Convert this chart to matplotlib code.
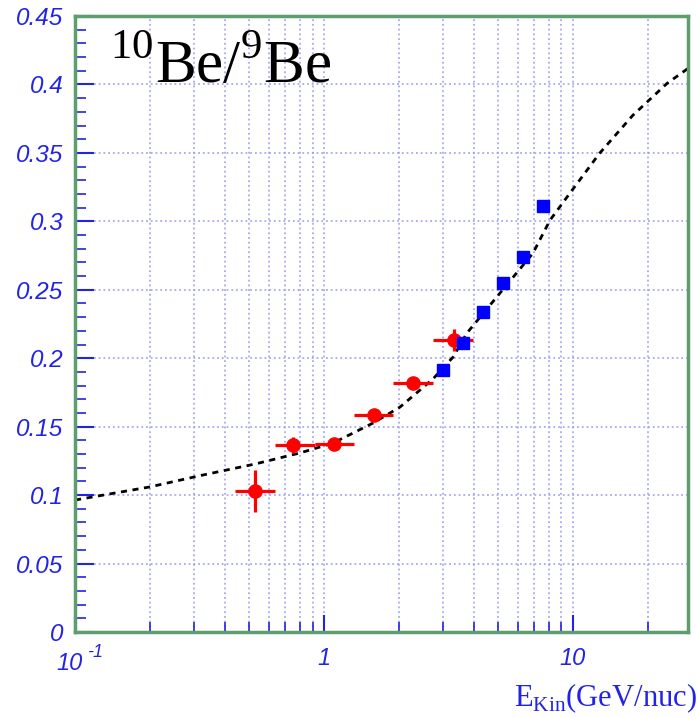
import numpy as np
import matplotlib
matplotlib.use("Agg")
import matplotlib.pyplot as plt
from matplotlib.ticker import FixedLocator, NullFormatter

plt.rcParams['mathtext.fontset'] = 'custom'
plt.rcParams['mathtext.rm'] = 'Liberation Serif'

# ---- data ----
red_x = [0.528, 0.751, 1.097, 1.588, 2.276, 3.33]
red_y = [0.103, 0.1366, 0.1373, 0.1585, 0.1819, 0.2133]
red_xlo = [0.439, 0.636, 0.920, 1.32, 1.89, 2.74]
red_xhi = [0.636, 0.920, 1.32, 1.89, 2.74, 3.97]
red_yerr = [0.015, 0.006, 0.003, 0.003, 0.003, 0.008]

blue_x = [3.0, 3.62, 4.35, 5.24, 6.30, 7.58]
blue_y = [0.1914, 0.2111, 0.2338, 0.2550, 0.2740, 0.3112]
blue_xlo = [2.87, 3.46, 4.16, 5.01, 6.02, 7.25]
blue_xhi = [3.14, 3.79, 4.55, 5.48, 6.59, 7.93]
blue_yerr = [0.003, 0.003, 0.003, 0.003, 0.003, 0.003]

curve_x = [0.1, 0.2, 0.327, 0.528, 0.801, 1.087, 1.573, 2.02, 2.74, 3.30,
           3.75, 5.09, 6.91, 8.09, 9.46, 12.8, 17.4, 23.9, 29.0]
curve_y = [0.0964, 0.106, 0.1147, 0.1227, 0.1308, 0.138, 0.1526, 0.1643, 0.1848,
           0.2008, 0.2183, 0.2475, 0.2767, 0.3008, 0.3176, 0.3497, 0.3774, 0.4008, 0.4117]

y_ticks = [0, 0.05, 0.1, 0.15, 0.2, 0.25, 0.3, 0.35, 0.4, 0.45]
y_labels = ['0', '0.05', '0.1', '0.15', '0.2', '0.25', '0.3', '0.35', '0.4', '0.45']
x_ticks = [0.1, 1, 10]
x_labels = ['', '1', '10']

blue_c = '#2323e6'
fig = plt.figure(figsize=(6.98, 7.18), dpi=100)
ax = fig.add_axes([75/698, 1-632/718, (688-75)/698, (632-16)/718])
ax.set_xscale('log')
ax.set_xlim(0.1, 29.0)
ax.set_ylim(0, 0.45)

# grid
minor_x = [m*10.0**e for e in (-1, 0, 1) for m in range(2, 10) if m*10.0**e < 29]
gstyle = dict(color='#9a9af2', lw=1.1, ls=(0, (1.2, 1.9)), zorder=0)
for xv in minor_x + [1, 10]:
    ax.axvline(xv, **gstyle)
for yv in y_ticks[1:-1]:
    ax.axhline(yv, **gstyle)

ax.plot(curve_x, curve_y, color='black', lw=2.0, ls=(0, (2.2, 2.0)), zorder=2)

rx = np.array(red_x)
ax.errorbar(red_x, red_y, xerr=[rx-np.array(red_xlo), np.array(red_xhi)-rx], yerr=red_yerr,
            fmt='o', color='#ff0000', ms=9.5, lw=2.3, capsize=0, zorder=3)
bx = np.array(blue_x)
ax.errorbar(blue_x, blue_y, xerr=[bx-np.array(blue_xlo), np.array(blue_xhi)-bx], yerr=blue_yerr,
            fmt='s', color='#0000ff', ms=8.5, lw=2.3, capsize=0, zorder=4)

# ticks
ax.xaxis.set_major_locator(FixedLocator(x_ticks))
ax.set_xticklabels(x_labels)
ax.xaxis.set_minor_locator(FixedLocator(minor_x))
ax.xaxis.set_minor_formatter(NullFormatter())
ax.set_yticks(y_ticks)
ax.set_yticklabels(y_labels)
ax.yaxis.set_minor_locator(FixedLocator(np.arange(0, 0.451, 0.01)))
ax.tick_params(which='both', direction='in', colors=blue_c, labelcolor=blue_c)
ax.tick_params(axis='y', which='major', length=14, width=1.5, pad=8.5, labelsize=17.5)
ax.tick_params(axis='y', which='minor', length=8, width=1.2)
ax.tick_params(axis='x', which='major', length=12, width=1.5, pad=11, labelsize=17)
ax.tick_params(axis='x', which='minor', length=7, width=1.2)
ax.tick_params(right=False, top=False, which='both')
for lab in ax.get_xticklabels() + ax.get_yticklabels():
    lab.set_family('Liberation Sans')
    lab.set_style('italic')

# 10^-1 label for the first decade
fig.text(83/698, 1-670/718, '10', fontsize=17, family='Liberation Sans', style='italic',
         color=blue_c, ha='right', va='baseline')
fig.text(87/698, 1-657/718, '-1', fontsize=13, family='Liberation Sans', style='italic',
         color=blue_c, ha='left', va='baseline')

for sp in ax.spines.values():
    sp.set_color('#5e9e6e')
    sp.set_linewidth(2.5)

ax.text(0.057, 0.891, r'$^{10}$Be/$^{9}$Be', transform=ax.transAxes, fontsize=44,
        family='Liberation Serif', color='black', ha='left', va='baseline')

fig.text(697/698, 1-706/718, r'E$_{\mathrm{Kin}}$(GeV/nuc)', fontsize=22,
         family='Liberation Serif', color=blue_c, ha='right', va='baseline')

fig.savefig('out.png', dpi=100)
